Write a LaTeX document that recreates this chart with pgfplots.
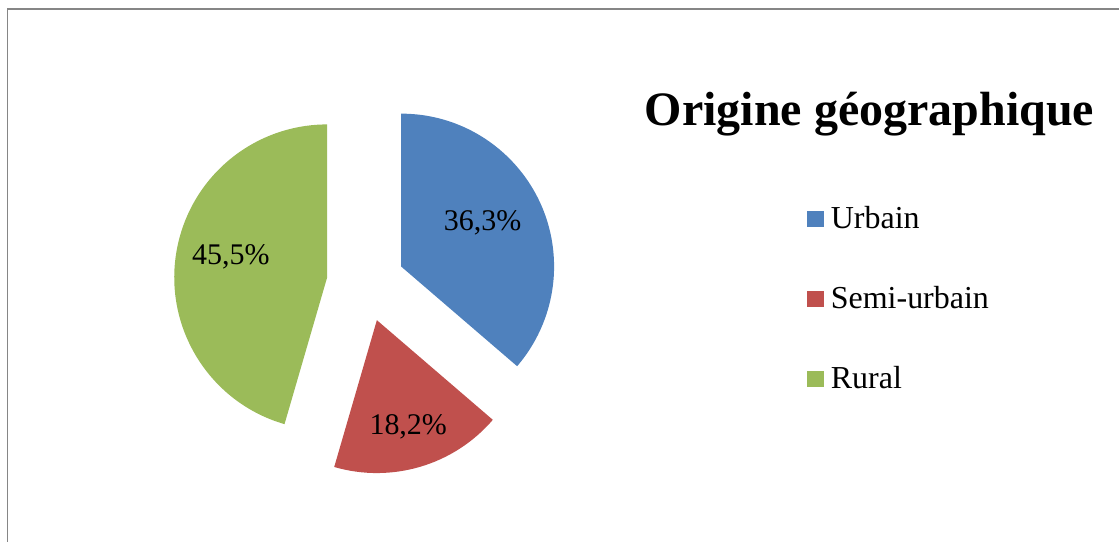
\documentclass[border=0pt]{standalone}
\usepackage{pgfplots}
\pgfplotsset{compat=1.18}
\usepackage{pgfplotstable}
\usepackage{fontspec}
\setmainfont{Liberation Serif}
\definecolor{urb}{HTML}{4F81BD}
\definecolor{semi}{HTML}{C0504D}
\definecolor{rur}{HTML}{9BBB59}
\definecolor{frame}{HTML}{868686}

% shares in percent, clockwise from 12 o'clock
\pgfplotstableread{
label value
Urbain 36.3
Semi-urbain 18.2
Rural 45.5
}\piedata

\pgfplotstablegetelem{0}{value}\of\piedata \let\vA\pgfplotsretval
\pgfplotstablegetelem{1}{value}\of\piedata \let\vB\pgfplotsretval
\pgfplotstablegetelem{2}{value}\of\piedata \let\vC\pgfplotsretval

% pie centre, explode distance (axis units = px), radius in pt
\def\cx{366}\def\cy{259}\def\dd{39}\def\rr{76.5}
\pgfmathsetmacro\aA{90}
\pgfmathsetmacro\aB{\aA-3.6*\vA}
\pgfmathsetmacro\aC{\aB-3.6*\vB}
\pgfmathsetmacro\aD{\aC-3.6*\vC}
\pgfmathsetmacro\xA{\cx+\dd*cos((\aA+\aB)/2)}\pgfmathsetmacro\yA{\cy+\dd*sin((\aA+\aB)/2)}
\pgfmathsetmacro\xB{\cx+\dd*cos((\aB+\aC)/2)}\pgfmathsetmacro\yB{\cy+\dd*sin((\aB+\aC)/2)}
\pgfmathsetmacro\xC{\cx+\dd*cos((\aC+\aD)/2)}\pgfmathsetmacro\yC{\cy+\dd*sin((\aC+\aD)/2)}

\begin{document}
\begin{tikzpicture}
\begin{axis}[
    width=560pt, height=271pt,
    scale only axis,
    xmin=0, xmax=1120, ymin=0, ymax=542,
    hide axis,
    clip=false,
]
\path (axis cs:0,0) rectangle (axis cs:1120,542);
% outer frame (top and left edges only are visible)
\draw[frame, line width=0.75pt] (axis cs:7.5,0) -- (axis cs:7.5,533) -- (axis cs:1120,533);

% slices
\fill[urb] (axis cs:\xA,\yA) -- ++(\aA:\rr pt) arc[start angle=\aA, end angle=\aB, radius=\rr pt] -- cycle;
\fill[semi] (axis cs:\xB,\yB) -- ++(\aB:\rr pt) arc[start angle=\aB, end angle=\aC, radius=\rr pt] -- cycle;
\fill[rur] (axis cs:\xC,\yC) -- ++(\aC:\rr pt) arc[start angle=\aC, end angle=\aD, radius=\rr pt] -- cycle;

% data labels
\pgfkeys{/pgf/number format/.cd, fixed, fixed zerofill, precision=1, use comma, assume math mode=true}
\node[anchor=base, inner sep=0, font=\fontsize{15}{18}\selectfont] at (axis cs:483,311) {\pgfmathprintnumber{\vA}\%};
\node[anchor=base, inner sep=0, font=\fontsize{15}{18}\selectfont] at (axis cs:408.5,107) {\pgfmathprintnumber{\vB}\%};
\node[anchor=base, inner sep=0, font=\fontsize{15}{18}\selectfont] at (axis cs:231,277) {\pgfmathprintnumber{\vC}\%};

% title
\node[anchor=base, inner sep=0, font=\fontsize{24}{28}\selectfont\bfseries] at (axis cs:870,416) {Origine géographique};

% legend
\fill[urb] (axis cs:808,315.3) rectangle (axis cs:825,331.3);
\fill[semi] (axis cs:808,235) rectangle (axis cs:825,251.3);
\fill[rur] (axis cs:808,154.3) rectangle (axis cs:825,171);
\node[anchor=base west, inner sep=0, font=\fontsize{16}{19}\selectfont] at (axis cs:831,313) {Urbain};
\node[anchor=base west, inner sep=0, font=\fontsize{16}{19}\selectfont] at (axis cs:831,233) {Semi-urbain};
\node[anchor=base west, inner sep=0, font=\fontsize{16}{19}\selectfont] at (axis cs:831,153) {Rural};
\end{axis}
\end{tikzpicture}
\end{document}
